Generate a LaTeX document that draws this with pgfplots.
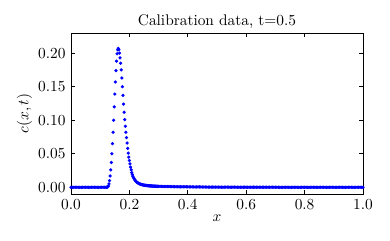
\documentclass[border=0pt]{standalone}
\usepackage{pgfplots}
\pgfplotsset{compat=1.18}
\begin{document}
\begin{tikzpicture}
\begin{axis}[
  width=189.8pt, height=104.65pt, scale only axis,
  xmin=0, xmax=1, ymin=-0.01, ymax=0.23,
  xtick={0,0.2,0.4,0.6,0.8,1.0},
  ytick={0,0.05,0.10,0.15,0.20},
  xticklabel style={/pgf/number format/.cd,fixed,fixed zerofill,precision=1},
  yticklabel style={/pgf/number format/.cd,fixed,fixed zerofill,precision=2},
  scaled y ticks=false,
  tick align=inside,
  major tick length=2.6pt,
  minor tick num=0,
  axis line style={line width=0.55pt},
  every tick/.style={black, line width=0.4pt},
  title={Calibration data, t=0.5},
  title style={yshift=-6.5pt},
  xlabel={$x$}, ylabel={$c(x,t)$},
  xlabel style={yshift=3pt},
  ylabel style={yshift=-3pt},
  clip=false,
]
\coordinate (sw) at (rel axis cs:0,0);
\coordinate (ne) at (rel axis cs:1,1);
\addplot[only marks, mark=*, mark size=0.85pt, color=blue, mark options={draw=blue, fill=blue}] coordinates {
(0,0) (0.005,0) (0.010,0) (0.015,0) (0.020,0) (0.025,0) (0.030,0) (0.035,0) (0.040,0) (0.045,0)
(0.050,0) (0.055,0) (0.060,0) (0.065,0) (0.070,0) (0.075,0) (0.080,0) (0.085,0) (0.090,0) (0.095,0)
(0.100,0) (0.105,0) (0.110,0) (0.115,0)
(0.120,0) (0.122,0.0001) (0.124,0.0003) (0.126,0.0008) (0.128,0.002) (0.130,0.005)
(0.132,0.010) (0.134,0.017) (0.136,0.026) (0.138,0.037) (0.140,0.050) (0.142,0.065)
(0.144,0.082) (0.146,0.100) (0.148,0.120) (0.150,0.139) (0.152,0.157) (0.154,0.174)
(0.156,0.188) (0.158,0.199) (0.160,0.205) (0.162,0.207) (0.164,0.205) (0.166,0.200)
(0.168,0.193) (0.170,0.185) (0.172,0.175) (0.174,0.163) (0.176,0.150) (0.178,0.137)
(0.180,0.124) (0.182,0.112) (0.184,0.101) (0.186,0.091) (0.188,0.082) (0.190,0.074)
(0.192,0.066) (0.194,0.058) (0.196,0.051) (0.198,0.045) (0.200,0.040) (0.202,0.035)
(0.204,0.030) (0.206,0.026) (0.208,0.022) (0.210,0.019) (0.212,0.0165) (0.214,0.0145)
(0.216,0.0128) (0.218,0.0114) (0.220,0.0102) (0.222,0.0092) (0.224,0.0083) (0.226,0.0075)
(0.228,0.0068) (0.230,0.0062) (0.232,0.0057) (0.234,0.0053) (0.236,0.0049) (0.238,0.0046)
(0.240,0.0043) (0.242,0.0040) (0.244,0.0038) (0.246,0.0036) (0.248,0.0034) (0.250,0.0032)
(0.252,0.0031) (0.254,0.0029) (0.256,0.0028) (0.258,0.0027) (0.260,0.0026) (0.262,0.0025)
(0.264,0.0024) (0.266,0.0023) (0.268,0.0022) (0.270,0.0021) (0.272,0.0021) (0.274,0.0020)
(0.276,0.0019) (0.278,0.0019) (0.280,0.0018) (0.282,0.0018) (0.284,0.0017) (0.286,0.0017)
(0.288,0.0016) (0.290,0.0016) (0.292,0.0015) (0.294,0.0015) (0.296,0.0015) (0.298,0.0014)
(0.300,0.0014) (0.305,0.0013) (0.310,0.0013) (0.315,0.0012) (0.320,0.0012) (0.325,0.0011)
(0.330,0.0011) (0.335,0.0011) (0.340,0.0010) (0.345,0.0010) (0.350,0.0010) (0.355,0.0009)
(0.360,0.0009) (0.365,0.0009) (0.370,0.0008) (0.375,0.0008) (0.380,0.0008) (0.385,0.0007)
(0.390,0.0007) (0.395,0.0007) (0.400,0.0007) (0.405,0.0006) (0.410,0.0006) (0.415,0.0006)
(0.420,0.0006) (0.425,0.0005) (0.430,0.0005) (0.435,0.0005) (0.440,0.0005) (0.445,0.0005)
(0.450,0.0004) (0.455,0.0004) (0.460,0.0004) (0.465,0.0004) (0.470,0.0004) (0.475,0.0003)
(0.480,0.0003) (0.485,0.0003) (0.490,0.0003) (0.495,0.0003) (0.500,0.0003) (0.505,0.0003)
(0.510,0.0002) (0.515,0.0002) (0.520,0.0002) (0.525,0.0002) (0.530,0.0002) (0.535,0.0002)
(0.540,0.0002) (0.545,0.0002) (0.550,0.0002) (0.555,0.0002) (0.560,0.0002) (0.565,0.0001)
(0.570,0.0001) (0.575,0.0001) (0.580,0.0001) (0.585,0.0001) (0.590,0.0001) (0.595,0.0001)
(0.600,0.0001) (0.605,0.0001) (0.610,0.0001) (0.615,0.0001) (0.620,0.0001) (0.625,0.0001)
(0.630,0.0001) (0.635,0.0001) (0.640,0.0001) (0.645,0.0001) (0.650,0.0001) (0.655,0.0001)
(0.660,0.0001) (0.665,0.0001) (0.670,0.0001) (0.675,0.0001) (0.680,0.0001) (0.685,0.0001)
(0.690,0.0001) (0.695,0.0001) (0.700,0.0001) (0.705,0) (0.710,0) (0.715,0)
(0.720,0) (0.725,0) (0.730,0) (0.735,0) (0.740,0) (0.745,0) (0.750,0) (0.755,0)
(0.760,0) (0.765,0) (0.770,0) (0.775,0) (0.780,0) (0.785,0) (0.790,0) (0.795,0)
(0.800,0) (0.805,0) (0.810,0) (0.815,0) (0.820,0) (0.825,0) (0.830,0) (0.835,0)
(0.840,0) (0.845,0) (0.850,0) (0.855,0) (0.860,0) (0.865,0) (0.870,0) (0.875,0)
(0.880,0) (0.885,0) (0.890,0) (0.895,0) (0.900,0) (0.905,0) (0.910,0) (0.915,0)
(0.920,0) (0.925,0) (0.930,0) (0.935,0) (0.940,0) (0.945,0) (0.950,0) (0.955,0)
(0.960,0) (0.965,0) (0.970,0) (0.975,0) (0.980,0) (0.985,0) (0.990,0) (0.995,0) (1.000,0)
};
\end{axis}
\path ([shift={(-46.15pt,-29.9pt)}]sw) rectangle ([shift={(17.55pt,21.45pt)}]ne);
\end{tikzpicture}
\end{document}
